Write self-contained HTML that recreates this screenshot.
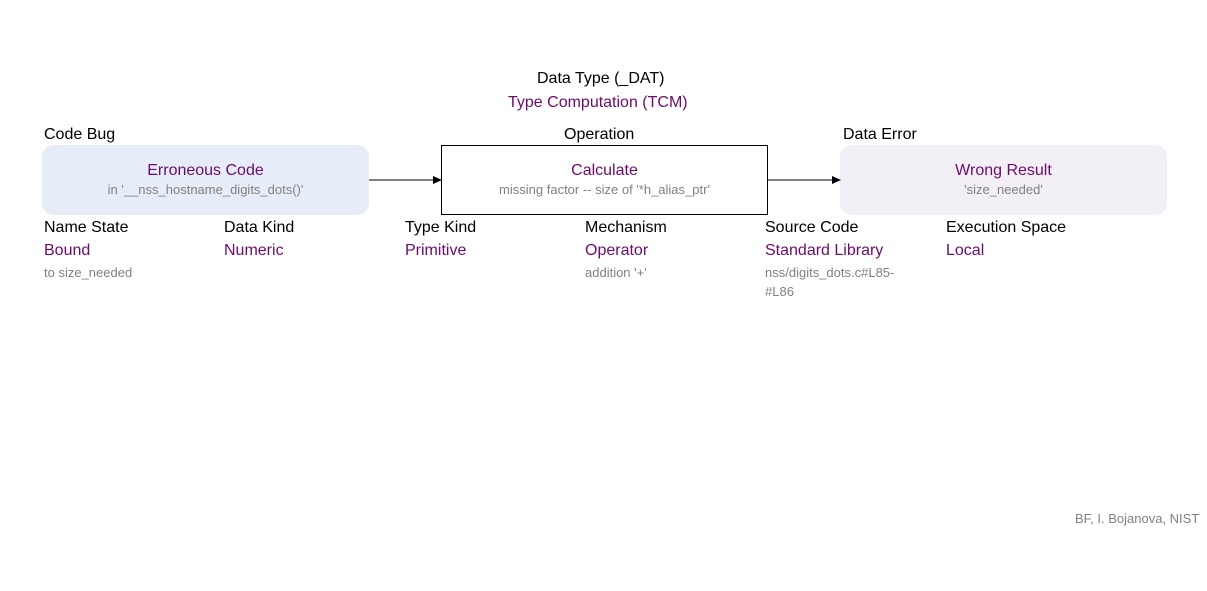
<!DOCTYPE html>
<html><head><meta charset="utf-8"><style>
body{margin:0;width:1207px;height:591px;background:#fff;position:relative;font-family:"Liberation Sans",sans-serif;overflow:hidden}
.t{position:absolute;white-space:nowrap;font-size:16px;color:#000}
.p{color:#6e0a6e}
.g{color:#808080;font-size:13px}
.box{position:absolute;top:145px;width:327px;height:70px;box-sizing:border-box;text-align:center}
.box .a{margin-top:17px;font-size:16px;color:#6e0a6e}
.box .b{margin-top:2px;font-size:13px;color:#808080}
</style></head><body>
<div class="t" style="left:537px;top:70px">Data Type (_DAT)</div>
<div class="t p" style="left:508px;top:94px">Type Computation (TCM)</div>
<div class="t" style="left:44px;top:126px">Code Bug</div>
<div class="t" style="left:564px;top:126px">Operation</div>
<div class="t" style="left:843px;top:126px">Data Error</div>
<div class="box" style="left:42px;background:#e6edf9;border-radius:12px"><div class="a">Erroneous Code</div><div class="b">in '__nss_hostname_digits_dots()'</div></div>
<div class="box" style="left:441px;border:1px solid #000"><div class="a" style="margin-top:16px">Calculate</div><div class="b">missing factor -- size of '*h_alias_ptr'</div></div>
<div class="box" style="left:840px;background:#f2eff6;border-radius:12px"><div class="a">Wrong Result</div><div class="b">'size_needed'</div></div>
<svg style="position:absolute;left:0;top:0" width="1207" height="591">
<line x1="369" y1="180" x2="434" y2="180" stroke="#000"/><polygon points="442,180 433,176 433,184" fill="#000"/>
<line x1="768" y1="180" x2="833" y2="180" stroke="#000"/><polygon points="841,180 832,176 832,184" fill="#000"/>
</svg>
<div class="t" style="left:44px;top:219px">Name State</div><div class="t p" style="left:44px;top:242px">Bound</div><div class="t g" style="left:44px;top:265px">to size_needed</div>
<div class="t" style="left:224px;top:219px">Data Kind</div><div class="t p" style="left:224px;top:242px">Numeric</div>
<div class="t" style="left:405px;top:219px">Type Kind</div><div class="t p" style="left:405px;top:242px">Primitive</div>
<div class="t" style="left:585px;top:219px">Mechanism</div><div class="t p" style="left:585px;top:242px">Operator</div><div class="t g" style="left:585px;top:265px">addition '+'</div>
<div class="t" style="left:765px;top:219px">Source Code</div><div class="t p" style="left:765px;top:242px">Standard Library</div><div class="t g" style="left:765px;top:265px">nss/digits_dots.c#L85-</div><div class="t g" style="left:765px;top:284px">#L86</div>
<div class="t" style="left:946px;top:219px">Execution Space</div><div class="t p" style="left:946px;top:242px">Local</div>
<div class="t g" style="left:1075px;top:511px">BF, I. Bojanova, NIST</div>
</body></html>
